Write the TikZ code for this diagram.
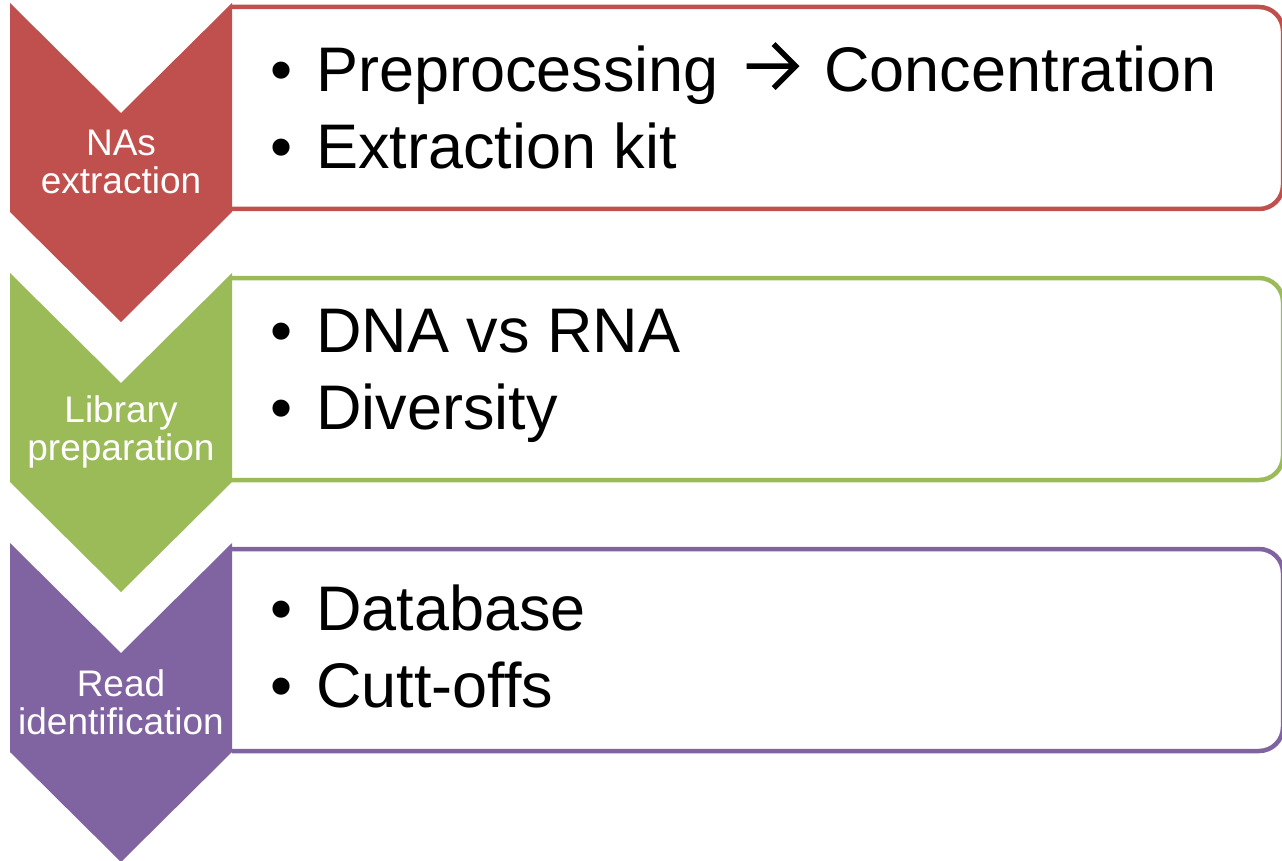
\documentclass[tikz,border=0pt]{standalone}
\usepackage{fontspec}
\setmainfont{Liberation Sans}
\usetikzlibrary{positioning}

\definecolor{extred}{HTML}{C0504D}
\definecolor{libgreen}{HTML}{9BBB59}
\definecolor{readpurple}{HTML}{8064A2}

% arrow between two words of a bullet
\newcommand{\thenarrow}{\tikz[baseline=0pt, x=1pt, y=1pt] \draw[line width=5.5pt, line join=miter] (0,25) -- (49,25) (27,47) -- (49,25) -- (27,3);}

\begin{document}
\begin{tikzpicture}
			[x=1pt, y=-1pt]
			
			\tikzstyle{frame} = [line width=4.5pt, rounded corners=24pt, fill=white]
			
			\tikzstyle{stage} = [text=white, align=center, inner sep=0pt, font=\fontsize{37}{38}\selectfont]
			
			\tikzstyle{detail} = [anchor=west, align=left, inner sep=0pt, text=black, font=\fontsize{63}{77}\selectfont]
			
			\useasboundingbox (0,0) rectangle (1282,861);
			
			\draw [frame, draw=extred] (232,209) -- (1283,209) -- (1283,7) -- (232,7);
			\draw [frame, draw=libgreen] (232,480) -- (1283,480) -- (1283,278) -- (232,278);
			\draw [frame, draw=readpurple] (232,751) -- (1283,751) -- (1283,549) -- (232,549);
			
			\fill [extred] (10,3) -- (121,113) -- (232,3) -- (232,212) -- (121,322) -- (10,212) -- cycle;
			\fill [libgreen] (10,273) -- (121,383) -- (232,273) -- (232,482) -- (121,592) -- (10,482) -- cycle;
			\fill [readpurple] (10,543) -- (121,653) -- (232,543) -- (232,752) -- (121,862) -- (10,752) -- cycle;
			
			\node (ext) [stage] at (121,162) {NAs\\extraction};
			\node (lib) [stage] at (121,432) {Library\\preparation};
			\node (read) [stage] at (121,702) {Read\\identification};
			
			\node (extlist) [detail] at (270,105) {\makebox[46pt][l]{\textbullet}Preprocessing\hspace{25pt}\thenarrow\hspace{26pt}Concentration\\
			\makebox[46pt][l]{\textbullet}Extraction kit};
			\node (liblist) [detail] at (270,376) {\makebox[46pt][l]{\textbullet}DNA vs RNA\\
			\makebox[46pt][l]{\textbullet}Diversity};
			\node (readlist) [detail] at (270,646) {\makebox[46pt][l]{\textbullet}Database\\
			\makebox[46pt][l]{\textbullet}Cutt-offs};
			
		\end{tikzpicture}
\end{document}
